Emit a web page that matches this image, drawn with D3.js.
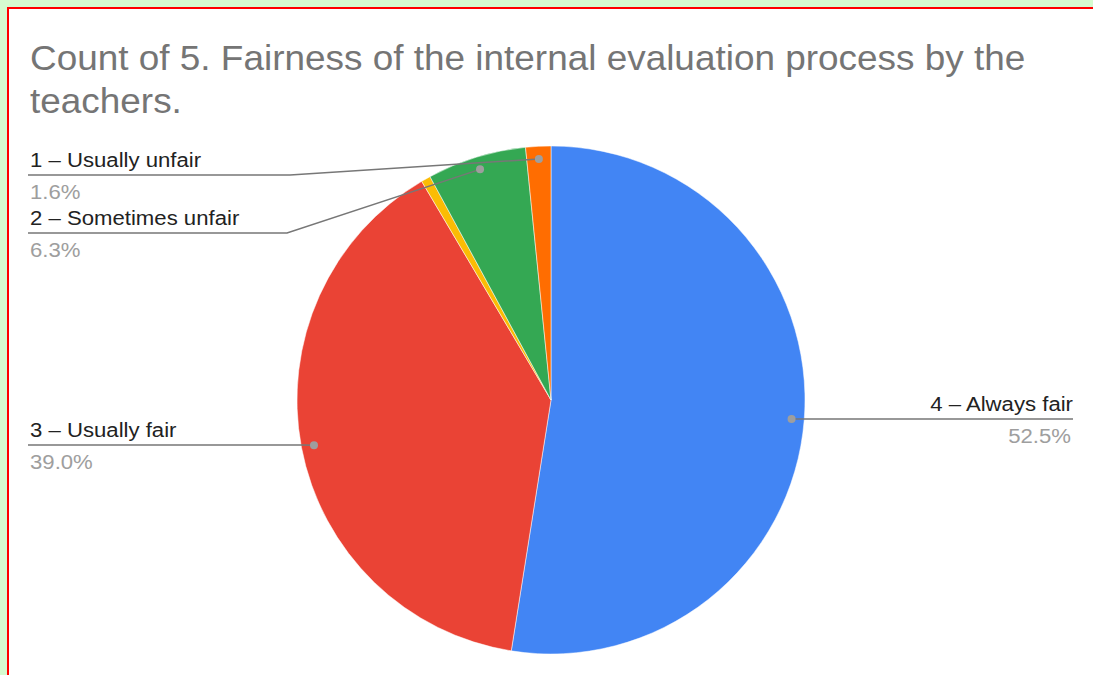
<!DOCTYPE html>
<html>
<head>
<meta charset="utf-8">
<script src="https://cdn.jsdelivr.net/npm/d3@7"></script>
<style>
  html, body { margin: 0; padding: 0; background: #d6fbd0; }
  svg { display: block; }
</style>
</head>
<body>
<svg></svg>
<script>
const titleLines = ["Count of 5. Fairness of the internal evaluation process by the", "teachers."];

// slices in drawing order, clockwise from 12 o'clock
const categories = ["4 – Always fair", "3 – Usually fair", "(blank)", "2 – Sometimes unfair", "1 – Usually unfair"];
const shares = [52.5, 39.0, 0.6, 6.3, 1.6];
const colors = ["#4285f4", "#ea4335", "#fbbc04", "#34a853", "#ff6d01"];
const pctLabels = ["52.5%", "39.0%", "", "6.3%", "1.6%"];

const width = 1093, height = 675;
const cx = 551, cy = 400, radius = 254;
const stretch = 1.055; // text in the source renders a bit wide

// where each label's underline sits (null = no label)
const labelPlace = [
  { side: "right", y: 419 },
  { side: "left", y: 445, elbow: null },
  null,
  { side: "left", y: 233, elbow: 287 },
  { side: "left", y: 175, elbow: 290 }
];

const svg = d3.select("svg")
    .attr("width", width)
    .attr("height", height);

// card with red frame
svg.append("rect")
    .attr("x", 8).attr("y", 8)
    .attr("width", width + 20).attr("height", height + 20)
    .attr("fill", "#ffffff")
    .attr("stroke", "#ff0000")
    .attr("stroke-width", 2);

svg.selectAll("text.title")
  .data(titleLines)
  .enter()
  .append("text")
    .attr("class", "title")
    .attr("transform", (d, i) => `translate(30,${70 + i * 43}) scale(${stretch},1)`)
    .style("font-family", "'Liberation Sans', Arial, sans-serif")
    .style("font-size", "35px")
    .style("fill", "#757575")
    .text(d => d);

const data = categories.map((c, i) => ({ name: c, share: shares[i], color: colors[i], pct: pctLabels[i], place: labelPlace[i] }));

const pie = d3.pie().sort(null).value(d => d.share);
const arcs = pie(data);

const arc = d3.arc().innerRadius(0).outerRadius(radius);
const dotArc = d3.arc().innerRadius(radius * 0.95).outerRadius(radius * 0.95);

const pieGroup = svg.append("g").attr("transform", `translate(${cx},${cy})`);

pieGroup.selectAll("path")
  .data(arcs)
  .enter()
  .append("path")
    .attr("d", arc)
    .style("fill", d => d.data.color)
    .style("stroke", "#ffffff")
    .style("stroke-width", 0.5);

const labelled = arcs.filter(d => d.data.place);

// leader lines
svg.selectAll("path.leader")
  .data(labelled)
  .enter()
  .append("path")
    .attr("class", "leader")
    .attr("d", d => {
      const [dx, dy] = dotArc.centroid(d);
      const px = cx + dx, py = cy + dy;
      const p = d.data.place;
      if (p.side === "right") {
        return `M${px},${py}L${px + 10},${p.y}L1073,${p.y}`;
      }
      if (p.elbow == null) return `M${px},${py}L${px - 10},${p.y}L28,${p.y}`;
      return `M${px},${py}L${p.elbow},${p.y}L28,${p.y}`;
    })
    .style("fill", "none")
    .style("stroke", "#777777")
    .style("stroke-width", 1.5);

svg.selectAll("circle.dot")
  .data(labelled)
  .enter()
  .append("circle")
    .attr("class", "dot")
    .attr("cx", d => cx + dotArc.centroid(d)[0])
    .attr("cy", d => cy + dotArc.centroid(d)[1])
    .attr("r", 4)
    .style("fill", "#9e9e9e");

const labelGroups = svg.selectAll("g.label")
  .data(labelled)
  .enter()
  .append("g")
    .attr("class", "label")
    .style("font-family", "'Liberation Sans', Arial, sans-serif")
    .style("font-size", "21px");

labelGroups.append("text")
    .attr("transform", d => {
      const x = d.data.place.side === "right" ? 1073 : 30;
      return `translate(${x},${d.data.place.y - 8}) scale(${stretch},1)`;
    })
    .attr("text-anchor", d => d.data.place.side === "right" ? "end" : "start")
    .style("fill", "#222222")
    .text(d => d.data.name);

labelGroups.append("text")
    .attr("transform", d => {
      const x = d.data.place.side === "right" ? 1071 : 30;
      return `translate(${x},${d.data.place.y + 24}) scale(${stretch},1)`;
    })
    .attr("text-anchor", d => d.data.place.side === "right" ? "end" : "start")
    .style("fill", "#9e9e9e")
    .text(d => d.data.pct);
</script>
</body>
</html>
